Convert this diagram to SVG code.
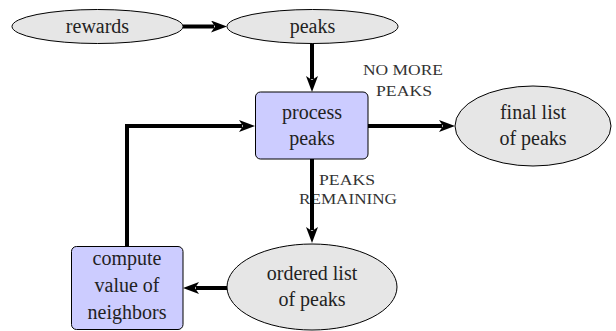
<svg xmlns="http://www.w3.org/2000/svg" width="616" height="331" viewBox="0 0 616 331">
<style>
.ell{fill:#e6e6e6;stroke:#000;stroke-width:1}
.box{fill:#ccccff;stroke:#000;stroke-width:1}
.t{font-size:20px;fill:#222;text-anchor:middle}
.l{font-size:14px;fill:#333;text-anchor:middle}
.c{fill:none;stroke:#000;stroke-width:4}
</style>
<defs>
<marker id="ah" markerUnits="userSpaceOnUse" viewBox="0 0 16 12" markerWidth="16" markerHeight="12" refX="3" refY="6" orient="auto">
<path d="M0,0 L16,6 L0,12 L4,6 Z" fill="#000"/>
</marker>
</defs>
<g id="connectors">
<text class="l" font-family="Liberation Serif" x="403" y="75" textLength="80" lengthAdjust="spacingAndGlyphs">NO MORE</text>
<text class="l" font-family="Liberation Serif" x="404" y="96" textLength="56" lengthAdjust="spacingAndGlyphs">PEAKS</text>
<text class="l" font-family="Liberation Serif" x="347" y="185" textLength="56" lengthAdjust="spacingAndGlyphs">PEAKS</text>
<text class="l" font-family="Liberation Serif" x="348" y="204" textLength="98" lengthAdjust="spacingAndGlyphs">REMAINING</text>
<path class="c" d="M183,26.5 H214" marker-end="url(#ah)"/>
<path class="c" d="M312,43 V79" marker-end="url(#ah)"/>
<path class="c" d="M368,126 H442" marker-end="url(#ah)"/>
<path class="c" d="M312,159 V230" marker-end="url(#ah)"/>
<path class="c" d="M227,288 H196" marker-end="url(#ah)"/>
<path class="c" d="M127,247 V126 H242" marker-end="url(#ah)"/>
</g>
<g id="rewards">
<ellipse class="ell" cx="97.5" cy="26.5" rx="85.5" ry="17"/>
<text class="t" font-family="Liberation Serif" x="97.5" y="33">rewards</text>
</g>
<g id="peaks">
<ellipse class="ell" cx="312.5" cy="26.5" rx="85.5" ry="17"/>
<text class="t" font-family="Liberation Serif" x="312.5" y="33">peaks</text>
</g>
<g id="process">
<rect class="box" x="255.5" y="92" width="112.5" height="67" rx="5"/>
<text class="t" font-family="Liberation Serif" x="312" y="119">process</text>
<text class="t" font-family="Liberation Serif" x="312" y="145">peaks</text>
</g>
<g id="final">
<ellipse class="ell" cx="533" cy="126" rx="78" ry="40"/>
<text class="t" font-family="Liberation Serif" x="533" y="119">final list</text>
<text class="t" font-family="Liberation Serif" x="533" y="145">of peaks</text>
</g>
<g id="ordered">
<ellipse class="ell" cx="312" cy="287" rx="85" ry="43"/>
<text class="t" font-family="Liberation Serif" x="312" y="280">ordered list</text>
<text class="t" font-family="Liberation Serif" x="312" y="306">of peaks</text>
</g>
<g id="compute">
<rect class="box" x="71.5" y="246.5" width="111.5" height="83" rx="5"/>
<text class="t" font-family="Liberation Serif" x="127" y="265">compute</text>
<text class="t" font-family="Liberation Serif" x="127" y="292">value of</text>
<text class="t" font-family="Liberation Serif" x="127" y="319">neighbors</text>
</g>
</svg>
